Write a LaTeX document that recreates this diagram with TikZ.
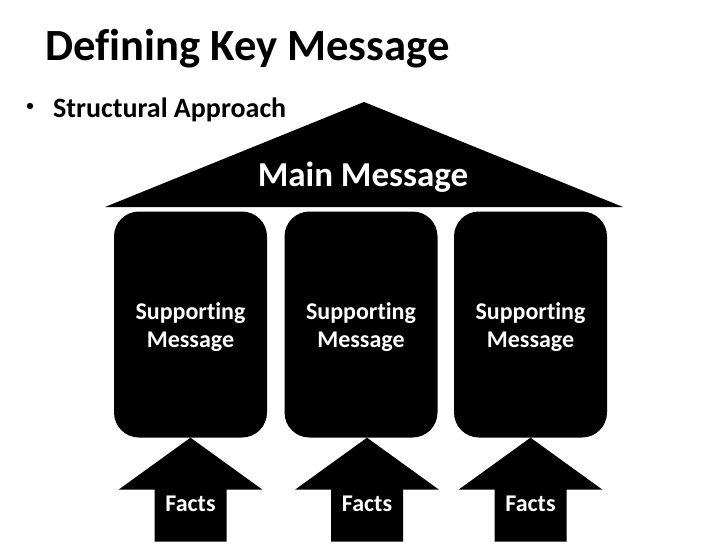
\documentclass[tikz,border=0pt]{standalone}
\usepackage{fontspec}
\setmainfont[Ligatures=NoCommon]{Carlito}
\begin{document}
\begin{tikzpicture}[x=1pt,y=-1pt,
  txt/.style={inner sep=0pt,anchor=base},
  pillar/.style={fill=black,rounded corners=25pt,minimum width=153pt,minimum height=226pt,inner sep=0pt},
  wtxt/.style={text=white,inner sep=0pt,anchor=base,font=\fontsize{24}{29}\selectfont\bfseries}]
\useasboundingbox (0,0) rectangle (728,546);
\node[txt,anchor=base west,font=\fontsize{44.6}{50}\selectfont\bfseries] (title) at (45,60) {Defining Key Message};
\fill (30,106) circle (3.2pt);
\node[txt,anchor=base west,font=\fontsize{28}{32}\selectfont\bfseries] (sub) at (53,117) {Structural Approach};
% roof
\coordinate (apex) at (364,102);
\coordinate (rl) at (105,207);
\coordinate (rr) at (623,207);
\fill (rl) -- (apex) -- (rr) -- cycle;
\node[wtxt,font=\fontsize{35}{40}\selectfont\bfseries] (main) at (363,186) {Main Message};
% pillars
\node[pillar] (p1) at (190.5,324.5) {};
\node[pillar] (p2) at (361,324.5) {};
\node[pillar] (p3) at (530.5,324.5) {};
\foreach \i in {1,2,3}{
  \node[wtxt] (s\i) at ([yshift=5.5pt]p\i.center) {Supporting};
  \node[wtxt] (m\i) at ([yshift=-22.5pt]p\i.center) {Message};
}
% arrows
\foreach \i/\dx in {1/0,2/6,3/0}{
  \coordinate (t\i) at ([xshift=\dx pt]p\i.south);
  \fill (t\i) -- ++(72,52) -- ++(-36,0) -- ++(0,52) -- ++(-72,0) -- ++(0,-52) -- ++(-36,0) -- cycle;
  \node[wtxt] (f\i) at ([yshift=-74pt]t\i) {Facts};
}
\end{tikzpicture}
\end{document}
